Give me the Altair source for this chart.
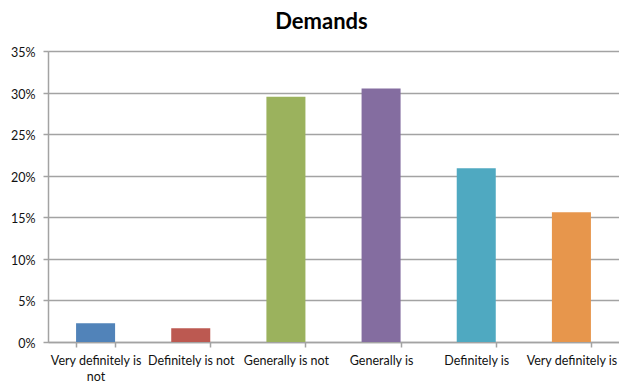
import altair as alt
import pandas as pd

# Survey answers and the share of respondents giving each one
categories = [
    "Very definitely is not",
    "Definitely is not",
    "Generally is not",
    "Generally is",
    "Definitely is",
    "Very definitely is",
]
shares = [0.0225, 0.0165, 0.295, 0.305, 0.209, 0.156]
bar_colors = ["#5183B9", "#BC5951", "#9BB25D", "#846DA0", "#4FA9C1", "#E7964C"]
y_ticks = [0, 0.05, 0.10, 0.15, 0.20, 0.25, 0.30, 0.35]

df = pd.DataFrame({"answer": categories, "share": shares, "color": bar_colors})

FONT = "Lato"
GRID = "#A3A3A3"

label_expr = (
    "datum.label == 'Very definitely is not' ? ['Very definitely is', 'not'] : datum.label"
)

chart = (
    alt.Chart(df)
    .mark_bar()
    .encode(
        x=alt.X(
            "answer:N",
            sort=categories,
            scale=alt.Scale(paddingInner=0.59, paddingOuter=0.295),
            axis=alt.Axis(
                title=None,
                labelAngle=0,
                labelExpr=label_expr,
                labelFont=FONT,
                labelFontSize=12.5,
                labelColor="#111111",
                labelLineHeight=16,
                labelPadding=7,
                labelLimit=0,
                labelOverlap=False,
                labelFlush=False,
                tickBand="extent",
                tickSize=5,
                tickColor=GRID,
                tickWidth=1.5,
                domainColor=GRID,
                domainWidth=1.5,
                grid=False,
            ),
        ),
        y=alt.Y(
            "share:Q",
            scale=alt.Scale(domain=[0, 0.35], nice=False),
            axis=alt.Axis(
                title=None,
                format=".0%",
                values=y_ticks,
                labelFont=FONT,
                labelFontSize=12.5,
                labelColor="#111111",
                labelPadding=8,
                labelOffset=1.5,
                tickSize=5,
                tickColor=GRID,
                tickWidth=1.5,
                domainColor=GRID,
                domainWidth=1.5,
                grid=True,
                gridColor=GRID,
                gridWidth=1.5,
            ),
        ),
        color=alt.Color("color:N", scale=None, legend=None),
    )
    .properties(
        width=571,
        height=291,
        padding={"left": 48, "top": 51, "right": 0, "bottom": 43},
        autosize=alt.AutoSizeParams(type="none"),
        title=alt.TitleParams(
            "Demands",
            font=FONT,
            fontSize=22,
            fontWeight="bold",
            color="#000000",
            anchor="middle",
            offset=13,
            dx=-12,
        ),
    )
    .configure_view(stroke=None)
    .configure(background="white")
)

chart.save("out.html", embed_options={"renderer": "svg", "actions": False})
